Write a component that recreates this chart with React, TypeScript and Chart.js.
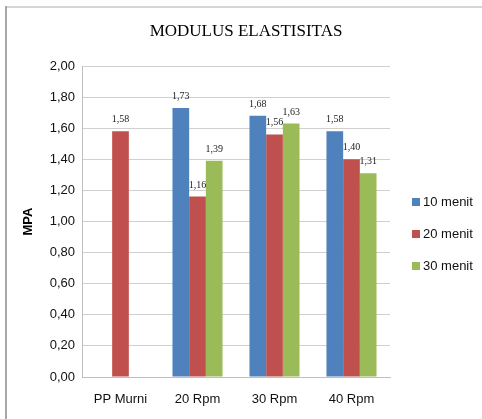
import React, { useEffect, useRef } from "react";
import { Chart, registerables } from "chart.js";

Chart.register(...registerables);

const categories = ["PP Murni", "20 Rpm", "30 Rpm", "40 Rpm"];
const seriesNames = ["10 menit", "20 menit", "30 menit"];
const menit10: (number | null)[] = [null, 1.73, 1.68, 1.58];
const menit20: (number | null)[] = [1.58, 1.16, 1.56, 1.4];
const menit30: (number | null)[] = [null, 1.39, 1.63, 1.31];
const colors = ["#4F81BD", "#C0504D", "#9BBB59"];
const titleText = "MODULUS ELASTISITAS";
const yTitle = "MPA";

const fmt = (v: number) => v.toFixed(2).replace(".", ",");

const decorPlugin = {
  id: "decor",
  beforeDraw(chart: any) {
    const ctx = chart.ctx;
    ctx.save();
    ctx.fillStyle = "#d6d6d6";
    ctx.fillRect(5, 6, 477, 2);
    ctx.fillStyle = "#a8a8a8";
    ctx.fillRect(5, 6, 2, 413);
    ctx.fillStyle = "#000";
    ctx.font = '17px "Liberation Serif", serif';
    ctx.textAlign = "center";
    ctx.textBaseline = "middle";
    ctx.fillText(titleText, 246, 32);
    ctx.restore();
  },
  afterDatasetsDraw(chart: any) {
    const ctx = chart.ctx;
    ctx.save();
    ctx.font = '10px "Liberation Serif", serif';
    ctx.fillStyle = "#222";
    ctx.textAlign = "center";
    ctx.textBaseline = "alphabetic";
    chart.data.datasets.forEach((ds: any, i: number) => {
      const meta = chart.getDatasetMeta(i);
      meta.data.forEach((bar: any, j: number) => {
        const v = ds.data[j];
        if (v == null) return;
        ctx.fillText(fmt(v), bar.x, bar.y - 9);
      });
    });
    // legend
    ctx.font = '13px "Liberation Sans", Arial, sans-serif';
    ctx.textAlign = "left";
    ctx.textBaseline = "middle";
    seriesNames.forEach((name, i) => {
      const cy = 202 + i * 32;
      ctx.fillStyle = colors[i];
      ctx.fillRect(412, cy - 4, 8, 8);
      ctx.fillStyle = "#111";
      ctx.fillText(name, 423, cy);
    });
    ctx.restore();
  },
};

export default function App() {
  const ref = useRef<HTMLCanvasElement | null>(null);
  useEffect(() => {
    if (!ref.current) return;
    const chart = new Chart(ref.current, {
      type: "bar",
      data: {
        labels: categories,
        datasets: [menit10, menit20, menit30].map((d, i) => ({
          label: seriesNames[i],
          data: d,
          backgroundColor: colors[i],
          borderWidth: 0,
          categoryPercentage: 0.65,
          barPercentage: 1,
        })),
      },
      options: {
        animation: false,
        responsive: false,
        devicePixelRatio: 1,
        layout: { padding: { top: 66, right: 92, left: 0, bottom: 0 } },
        plugins: {
          legend: { display: false },
          title: { display: false },
          tooltip: { enabled: false },
        },
        scales: {
          x: {
            grid: { display: false, drawTicks: false },
            border: { display: true, color: "#bfbfbf", width: 1 },
            ticks: {
              padding: 15,
              color: "#111",
              font: { family: '"Liberation Sans", Arial, sans-serif', size: 13 },
            },
            afterFit: (s: any) => {
              s.height = 42;
            },
          },
          y: {
            min: 0,
            max: 2,
            grid: { color: "#d0d0d0", drawTicks: false },
            border: { display: true, color: "#bfbfbf", width: 1 },
            ticks: {
              stepSize: 0.2,
              padding: 7,
              color: "#111",
              font: { family: '"Liberation Sans", Arial, sans-serif', size: 13 },
              callback: (v: any) => fmt(Number(v)),
            },
            title: {
              display: true,
              text: yTitle,
              color: "#000",
              font: { family: '"Liberation Sans", Arial, sans-serif', size: 13, weight: "bold" },
              padding: { top: 21, bottom: 0 },
            },
            afterFit: (s: any) => {
              s.width = 82;
            },
          },
        },
      },
      plugins: [decorPlugin],
    });
    return () => chart.destroy();
  }, []);
  return (
    <div style={{ position: "absolute", left: 0, top: 0, width: 482, height: 419, background: "#fff" }}>
      <canvas ref={ref} width={482} height={419} style={{ width: 482, height: 419, display: "block" }} />
    </div>
  );
}
